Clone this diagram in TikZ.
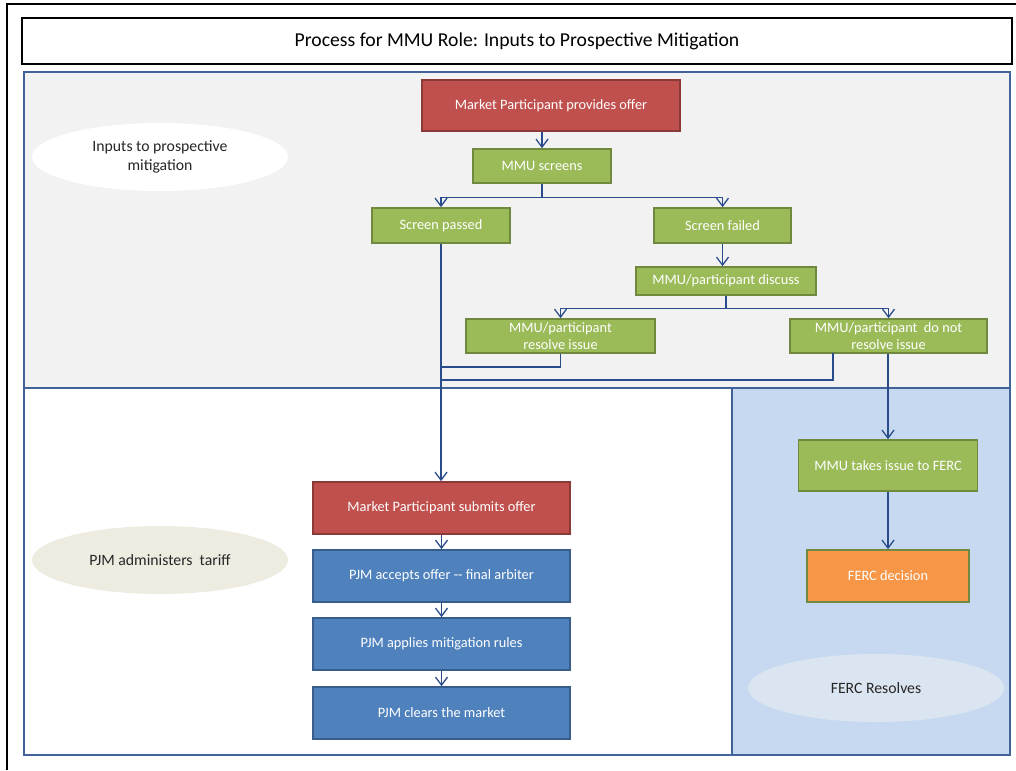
\documentclass[tikz,border=0pt]{standalone}
\usepackage{fontspec}
\setmainfont{Carlito}
\usetikzlibrary{arrows.meta,shapes.geometric}

\definecolor{panelgray}{HTML}{F2F2F2}
\definecolor{panelblue}{HTML}{C6D9F1}
\definecolor{panelline}{HTML}{41639A}
\definecolor{mmugreen}{HTML}{9BBB59}
\definecolor{mmugreenline}{HTML}{71893F}
\definecolor{offerred}{HTML}{C0504D}
\definecolor{offerredline}{HTML}{8C3A38}
\definecolor{pjmblue}{HTML}{4F81BD}
\definecolor{pjmblueline}{HTML}{385D8A}
\definecolor{fercorange}{HTML}{F79646}
\definecolor{flowline}{HTML}{2B4C8C}
\definecolor{tagtan}{HTML}{EEECE1}
\definecolor{tagblue}{HTML}{DBE5F1}

\begin{document}
\begin{tikzpicture}[x=0.025cm,y=-0.025cm,
	box/.style={draw,line width=1.2pt,text=white,align=center,inner sep=1pt,
		font=\fontsize{10.2}{11.5}\selectfont},
	redbox/.style={box,fill=offerred,draw=offerredline},
	greenbox/.style={box,fill=mmugreen,draw=mmugreenline},
	bluebox/.style={box,fill=pjmblue,draw=pjmblueline},
	orangebox/.style={box,fill=fercorange,draw=mmugreenline},
	tag/.style={ellipse,minimum width=6.4cm,minimum height=1.7cm,align=center,
		text=black!85,font=\fontsize{11.2}{13}\selectfont},
	panel/.style={draw=panelline,line width=1.4pt},
	link/.style={draw=flowline,line width=0.9pt},
	flow/.style={link,-{Straight Barb[length=2mm,width=3mm]}}]
	\useasboundingbox (0,0) rectangle (1016,770);
	% frame and title
	\draw [line width=1.4pt] (7,770) -- (7,4) -- (1016,4);
	\node [draw,line width=1.4pt,minimum width=24.75cm,minimum height=1.15cm,
		font=\fontsize{14}{17}\selectfont] (title) at (517,41)
		{Process for MMU Role: Inputs to Prospective Mitigation};
	% panels
	\draw [panel,fill=panelgray] (24,72) rectangle (1010,388);
	\draw [panel,fill=white] (24,388) rectangle (732,755);
	\draw [panel,fill=panelblue] (732,388) rectangle (1010,755);
	\node [tag,fill=white] (inputs) at (160,157) {Inputs to prospective\\mitigation};
	\node [tag,fill=tagtan] (tariff) at (160,560) {PJM administers\ \ tariff};
	\node [tag,fill=tagblue] (resolves) at (876,688) {FERC Resolves};
	% MMU screening
	\node [redbox,minimum width=6.45cm,minimum height=1.275cm] (provides) at (551,105.5) {Market Participant provides offer};
	\node [greenbox,minimum width=3.45cm,minimum height=0.85cm] (screens) at (542,166) {MMU screens};
	\node [greenbox,minimum width=3.45cm,minimum height=0.875cm] (passed) at (441,225.5) {Screen passed};
	\node [greenbox,minimum width=3.425cm,minimum height=0.875cm] (failed) at (722.5,225.5) {Screen failed};
	\node [greenbox,minimum width=4.5cm,minimum height=0.7cm] (discuss) at (726,281) {MMU/participant discuss};
	\node [greenbox,minimum width=4.725cm,minimum height=0.85cm] (resolve) at (560.5,336) {MMU/participant\\resolve issue};
	\node [greenbox,minimum width=4.925cm,minimum height=0.85cm] (notresolve) at (888.5,336) {MMU/participant\ \ do not\\resolve issue};
	% FERC
	\node [greenbox,minimum width=4.475cm,minimum height=1.275cm] (takes) at (888,465.5) {MMU takes issue to FERC};
	\node [orangebox,minimum width=4.05cm,minimum height=1.3cm] (decision) at (888,576) {FERC decision};
	% PJM
	\node [redbox,minimum width=6.425cm,minimum height=1.3cm] (submits) at (441.5,508) {Market Participant submits offer};
	\node [bluebox,minimum width=6.425cm,minimum height=1.3cm] (accepts) at (441.5,576) {PJM accepts offer {-}{-} final arbiter};
	\node [bluebox,minimum width=6.425cm,minimum height=1.3cm] (applies) at (441.5,644) {PJM applies mitigation rules};
	\node [bluebox,minimum width=6.425cm,minimum height=1.3cm] (clears) at (441.5,713) {PJM clears the market};
	% connectors
	\coordinate (join1) at (441,367);
	\coordinate (join2) at (441,380);
	\coordinate (nrfoot) at (833,353);
	\draw [flow] (provides.south -| screens.north) -- (screens.north);
	\draw [flow] (screens.south) -- ++(0,14) -| (passed.north);
	\draw [flow] (screens.south) -- ++(0,14) -| (failed.north);
	\draw [flow] (failed.south) -- (failed.south |- discuss.north);
	\draw [flow] (discuss.south) -- ++(0,13) -| (resolve.north);
	\draw [flow] (discuss.south) -- ++(0,13) -| (notresolve.north);
	\draw [flow] (passed.south) -- (passed.south |- submits.north);
	\draw [link] (resolve.south) |- (join1);
	\draw [link] (nrfoot) |- (join2);
	\draw [flow] (notresolve.south -| takes.north) -- (takes.north);
	\draw [flow] (takes.south) -- (decision.north);
	\draw [flow] (submits) -- (accepts);
	\draw [flow] (accepts) -- (applies);
	\draw [flow] (applies) -- (clears);
\end{tikzpicture}
\end{document}
